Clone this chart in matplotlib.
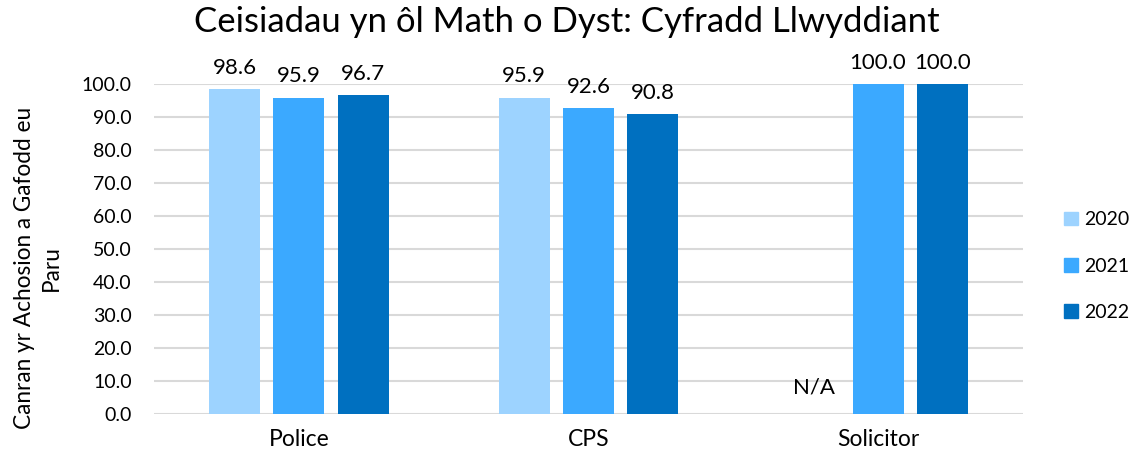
import matplotlib
matplotlib.use("Agg")
import matplotlib.pyplot as plt
import numpy as np

categories = ["Police", "CPS", "Solicitor"]
years = ["2020", "2021", "2022"]
v2020 = [98.6, 95.9, None]
v2021 = [95.9, 92.6, 100.0]
v2022 = [96.7, 90.8, 100.0]
series = [v2020, v2021, v2022]
colors = ["#9DD3FF", "#3BA9FF", "#0070C0"]
yticks = [0, 10, 20, 30, 40, 50, 60, 70, 80, 90, 100]

plt.rcParams['font.family'] = ['Lato', 'DejaVu Sans']

fig = plt.figure(figsize=(11.34, 4.57), dpi=100)
ax = fig.add_axes([0.1358, 0.0941, 0.902 - 0.1358, 0.8162 - 0.0941])

x = np.arange(len(categories))
width = 0.176
step = 0.222
handles = []
for i, (vals, c, yr) in enumerate(zip(series, colors, years)):
    pos = x + (i - 1) * step
    for p, v in zip(pos, vals):
        if v is None:
            ax.text(p, 8, "N/A", ha="center", va="center", fontsize=16, color="#000000")
        else:
            ax.bar(p, v, width=width, color=c, zorder=3)
            ax.annotate(f"{v:.1f}", (p, v), xytext=(0, 8), textcoords="offset points",
                        ha="center", va="bottom", fontsize=16, annotation_clip=False)
    handles.append(plt.Rectangle((0, 0), 1, 1, color=c, label=yr))

ax.set_xlim(-0.5, 2.5)
ax.set_ylim(0, 100)
ax.set_yticks(yticks)
ax.set_yticklabels([f"{t:.1f}" for t in yticks], fontsize=14)
ax.set_xticks(x)
ax.set_xticklabels(categories, fontsize=16.5)
ax.tick_params(axis="both", length=0)
ax.tick_params(axis="y", pad=16)
ax.tick_params(axis="x", pad=11)
ax.grid(axis="y", color="#D9D9D9", linewidth=1.5, zorder=0)
ax.set_axisbelow(True)
for s in ax.spines.values():
    s.set_visible(False)

fig.text(38 / 1134, 1 - 268 / 457, "Canran yr Achosion a Gafodd eu\nParu",
         rotation=90, ha="center", va="center", multialignment="center",
         fontsize=16.3, linespacing=1.3)

fig.text(0.5, 1 - 22 / 457, "Ceisiadau yn ôl Math o Dyst: Cyfradd Llwyddiant",
         ha="center", va="center", fontsize=25)

fig.legend(handles=handles, loc="center left", bbox_to_anchor=(1060 / 1134, 1 - 266 / 457),
           frameon=False, fontsize=14, handlelength=0.72, handleheight=0.72,
           labelspacing=1.5, handletextpad=0.3, borderaxespad=0, borderpad=0.2)

fig.savefig("out.png", dpi=100)
